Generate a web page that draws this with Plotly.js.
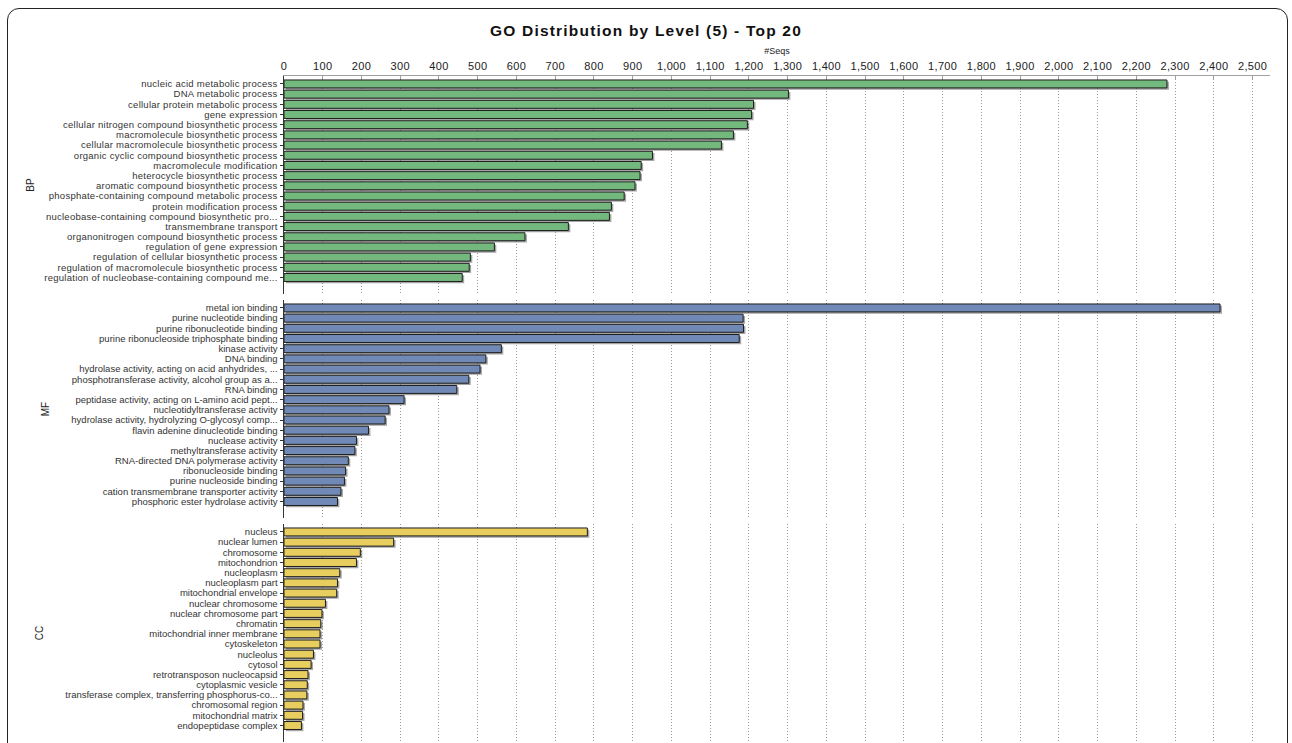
<!DOCTYPE html>
<html>
<head>
<meta charset="utf-8">
<script src="https://cdn.plot.ly/plotly-3.0.1.min.js"></script>
<style>
  html, body { margin: 0; padding: 0; background: #ffffff; }
  #frame { position: absolute; left: 7px; top: 8px; width: 1281px; height: 780px;
           border: 1.5px solid #222; border-radius: 12px; box-sizing: border-box; }
  #chart { position: absolute; left: 0; top: 0; width: 1292px; height: 743px; }
  #chart .gtitle { letter-spacing: 1.2px; }
  #chart .ytick text { letter-spacing: 0.25px; }
  #chart .xtick text { letter-spacing: 0.3px; }
</style>
</head>
<body>
<div id="frame"></div>
<div id="chart"></div>
<script>
// ---- Data ----
const bpTerms = [
  "nucleic acid metabolic process",
  "DNA metabolic process",
  "cellular protein metabolic process",
  "gene expression",
  "cellular nitrogen compound biosynthetic process",
  "macromolecule biosynthetic process",
  "cellular macromolecule biosynthetic process",
  "organic cyclic compound biosynthetic process",
  "macromolecule modification",
  "heterocycle biosynthetic process",
  "aromatic compound biosynthetic process",
  "phosphate-containing compound metabolic process",
  "protein modification process",
  "nucleobase-containing compound biosynthetic pro...",
  "transmembrane transport",
  "organonitrogen compound biosynthetic process",
  "regulation of gene expression",
  "regulation of cellular biosynthetic process",
  "regulation of macromolecule biosynthetic process",
  "regulation of nucleobase-containing compound me..."
];
const bpSeqs = [2279, 1302, 1212, 1207, 1196, 1160, 1129, 951, 922, 919, 906, 878, 845, 840, 734, 622, 543, 481, 478, 460];

const mfTerms = [
  "metal ion binding",
  "purine nucleotide binding",
  "purine ribonucleotide binding",
  "purine ribonucleoside triphosphate binding",
  "kinase activity",
  "DNA binding",
  "hydrolase activity, acting on acid anhydrides, ...",
  "phosphotransferase activity, alcohol group as a...",
  "RNA binding",
  "peptidase activity, acting on L-amino acid pept...",
  "nucleotidyltransferase activity",
  "hydrolase activity, hydrolyzing O-glycosyl comp...",
  "flavin adenine dinucleotide binding",
  "nuclease activity",
  "methyltransferase activity",
  "RNA-directed DNA polymerase activity",
  "ribonucleoside binding",
  "purine nucleoside binding",
  "cation transmembrane transporter activity",
  "phosphoric ester hydrolase activity"
];
const mfSeqs = [2416, 1185, 1186, 1175, 561, 521, 506, 477, 446, 310, 271, 261, 218, 187, 183, 166, 159, 156, 147, 138];

const ccTerms = [
  "nucleus",
  "nuclear lumen",
  "chromosome",
  "mitochondrion",
  "nucleoplasm",
  "nucleoplasm part",
  "mitochondrial envelope",
  "nuclear chromosome",
  "nuclear chromosome part",
  "chromatin",
  "mitochondrial inner membrane",
  "cytoskeleton",
  "nucleolus",
  "cytosol",
  "retrotransposon nucleocapsid",
  "cytoplasmic vesicle",
  "transferase complex, transferring phosphorus-co...",
  "chromosomal region",
  "mitochondrial matrix",
  "endopeptidase complex"
];
const ccSeqs = [783, 283, 197, 187, 144, 138, 136, 107, 98, 95, 93, 93, 76, 70, 62, 60, 59, 49, 48, 45];

const ontologies = ["BP", "MF", "CC"];
const xTicks = [0, 100, 200, 300, 400, 500, 600, 700, 800, 900, 1000, 1100, 1200, 1300, 1400, 1500, 1600, 1700, 1800, 1900, 2000, 2100, 2200, 2300, 2400, 2500];

// ---- Styling ----
const colors = ["#73b97e", "#7189b6", "#e8cd5f"];
const FONT = "Liberation Sans, Arial, Helvetica, sans-serif";
const groups = [[bpTerms, bpSeqs], [mfTerms, mfSeqs], [ccTerms, ccSeqs]];

const traces = [];
groups.forEach(([terms, vals], i) => {
  const xa = i === 0 ? "x" : "x" + (i + 1);
  const ya = i === 0 ? "y" : "y" + (i + 1);
  // soft drop shadow (same data, shifted slightly)
  traces.push({
    type: "bar", orientation: "h", y: terms, x: vals, base: 5,
    width: 0.78, offset: -0.22,
    marker: { color: "rgba(90,90,90,0.55)", line: { width: 0 } },
    xaxis: xa, yaxis: ya, hoverinfo: "skip", showlegend: false
  });
  traces.push({
    type: "bar", orientation: "h", y: terms, x: vals,
    width: 0.78,
    marker: { color: colors[i], line: { color: "#1e1e1e", width: 1 } },
    xaxis: xa, yaxis: ya, name: ontologies[i], showlegend: false
  });
});

const H = 743, T = 76, B = 1;
const ph = H - T - B;
const panelH = 218, step = 224;
function dom(k) { // k = 0 top panel
  const topPx = T + k * step;
  const botPx = topPx + panelH;
  return [(H - B - botPx) / ph, (H - B - topPx) / ph];
}

const xBase = {
  range: [0, 2545], tickmode: "array", tickvals: xTicks, tickformat: ",d",
  showgrid: true, gridcolor: "#9a9a9a", griddash: "1px,2px", gridwidth: 1,
  zeroline: false, fixedrange: true
};

const layout = {
  width: 1292, height: 743,
  margin: { l: 284, r: 22, t: T, b: B },
  paper_bgcolor: "rgba(0,0,0,0)", plot_bgcolor: "rgba(0,0,0,0)",
  barmode: "overlay",
  font: { family: FONT, color: "#222" },
  title: {
    text: "<b>GO Distribution by Level (5) - Top 20</b>",
    font: { family: FONT, size: 15.5, color: "#111" },
    x: 0.5, xanchor: "center", y: 1 - 31 / 743, yanchor: "middle"
  },
  xaxis: Object.assign({}, xBase, {
    anchor: "y", side: "top",
    showline: true, linecolor: "#a0a0a0", linewidth: 1.5,
    ticks: "inside", ticklen: 3, tickcolor: "#a0a0a0",
    tickfont: { family: FONT, size: 11, color: "#222" },
    title: { text: "#Seqs", font: { family: FONT, size: 9, color: "#222" }, standoff: 4 }
  }),
  xaxis2: Object.assign({}, xBase, { anchor: "y2", matches: "x", showticklabels: false, showline: false, ticks: "" }),
  xaxis3: Object.assign({}, xBase, { anchor: "y3", matches: "x", showticklabels: false, showline: false, ticks: "" })
};

ontologies.forEach((name, k) => {
  const key = k === 0 ? "yaxis" : "yaxis" + (k + 1);
  layout[key] = {
    domain: dom(k),
    anchor: k === 0 ? "x" : "x" + (k + 1),
    type: "category",
    range: [20.62, -0.78],
    tickmode: "linear", tick0: 0, dtick: 1,
    showline: true, linecolor: "#333", linewidth: 1.5,
    ticks: "outside", ticklen: 3, tickcolor: "#333",
    tickfont: { family: FONT, size: 9.5, color: "#333" },
    showgrid: false, zeroline: false, fixedrange: true,
    title: { text: name, font: { family: FONT, size: 10, color: "#222" }, standoff: 20 }
  };
});

Plotly.newPlot("chart", traces, layout, { displayModeBar: false, staticPlot: true });
</script>
</body>
</html>
